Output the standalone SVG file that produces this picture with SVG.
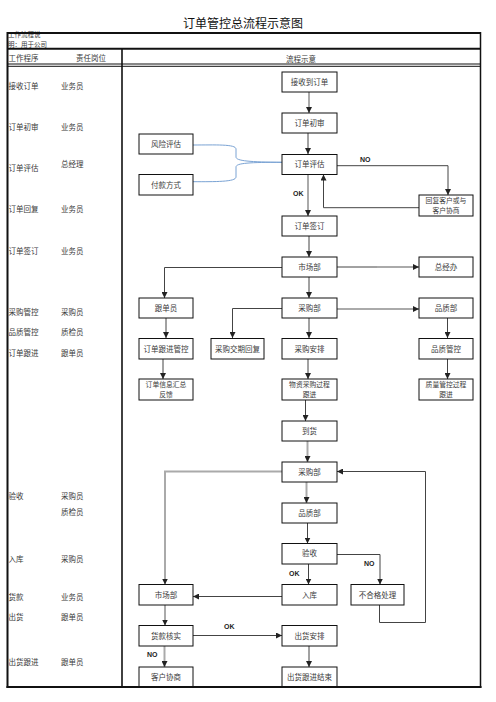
<svg xmlns="http://www.w3.org/2000/svg" width="496" height="702" viewBox="0 0 496 702">
<defs>
<marker id="ah" markerUnits="userSpaceOnUse" markerWidth="6" markerHeight="6" refX="6" refY="3" orient="auto"><path d="M0,0 L6,3 L0,6 z" fill="#222"/></marker>
<style>
text{font-family:"Noto Sans CJK SC","Noto Sans CJK JP",sans-serif;font-size:7.5px;fill:#3a3a3a}
.t{font-size:12px;fill:#111}
.c{text-anchor:middle}
.s{font-size:6.8px}
.h{font-size:6.5px}
.lb{font-family:"Liberation Sans",Arial,sans-serif;font-weight:bold;font-size:7px;fill:#222}
.box rect{fill:#fff;stroke:#111;stroke-width:1}
.ln{fill:none;stroke:#111}
.k{fill:none;stroke:#444;stroke-width:1;marker-end:url(#ah)}
.g{fill:none;stroke:#aaa;stroke-width:2;marker-end:url(#ah)}
.n{fill:none;stroke:#444;stroke-width:1}
.bl{fill:none;stroke:#7aa3d4;stroke-width:1}
</style>
</defs>
<rect width="496" height="702" fill="#fff"/>
<text class="t c" x="243" y="28">订单管控总流程示意图</text>
<g id="table">
<text class="h" x="8" y="37">工作流程说</text>
<text class="h" x="8" y="46.6">明：用于公司</text>
<line class="ln" x1="7" y1="33" x2="481" y2="33" stroke-width="2"/>
<line class="ln" x1="7" y1="48.7" x2="481" y2="48.7" stroke-width="2"/>
<line class="ln" x1="7" y1="64" x2="481" y2="64" stroke-width="1"/>
<line class="ln" x1="7" y1="66.3" x2="481" y2="66.3" stroke-width="1"/>
<line class="ln" x1="7.5" y1="32" x2="7.5" y2="688" stroke-width="2"/>
<line class="ln" x1="480.5" y1="32" x2="480.5" y2="688" stroke-width="1.5"/>
<line class="ln" x1="122" y1="49" x2="122" y2="687" stroke-width="1.6"/>
<text x="8.5" y="60.5">工作程序</text>
<text x="76" y="60.5">责任岗位</text>
<text class="c" x="301" y="62">流程示意</text>
</g>
<g id="left-col">
<text x="8.5" y="89">接收订单</text><text x="61" y="89">业务员</text>
<text x="8.5" y="130">订单初审</text><text x="61" y="130">业务员</text>
<text x="8.5" y="171">订单评估</text><text x="61" y="167">总经理</text>
<text x="8.5" y="212">订单回复</text><text x="61" y="212">业务员</text>
<text x="8.5" y="254">订单签订</text><text x="61" y="254">业务员</text>
<text x="8.5" y="315">采购管控</text><text x="61" y="315">采购员</text>
<text x="8.5" y="335">品质管控</text><text x="61" y="335">质检员</text>
<text x="8.5" y="356">订单跟进</text><text x="61" y="356">跟单员</text>
<text x="8.5" y="499">验收</text><text x="61" y="499">采购员</text>
<text x="61" y="515">质检员</text>
<text x="8.5" y="562">入库</text><text x="61" y="562">采购员</text>
<text x="8.5" y="600">货款</text><text x="61" y="600">业务员</text>
<text x="8.5" y="620">出货</text><text x="61" y="620">跟单员</text>
<text x="8.5" y="665">出货跟进</text><text x="61" y="665">跟单员</text>
</g>
<g id="connectors">
<path class="g" d="M309,92 V113"/>
<path class="k" d="M308,133 V154"/>
<path class="g" d="M308,174.5 V216"/>
<path class="k" d="M337,165.7 H448 V195"/>
<path class="k" d="M419,207.7 H323.5 V174.5"/>
<path class="bl" d="M193,145 C215,145 236,144 236,149 V157 C236,161 250,162 282,162.3"/>
<path class="bl" d="M193,181.7 C215,181.7 236,182 236,177 V167 C236,163 250,162.3 282,162.3"/>
<path class="k" d="M309,236 V257"/>
<path class="n" d="M337,267 H378"/>
<path class="g" d="M377,267 H419"/>
<path class="k" d="M282,267.5 H164.5 V298"/>
<path class="k" d="M309,277 V298"/>
<path class="g" d="M337,309 H419"/>
<path class="k" d="M282,308.5 H232.5 V338"/>
<path class="k" d="M309,318 V338"/>
<path class="k" d="M447.5,318 V338"/>
<path class="k" d="M166,318 V338"/>
<path class="k" d="M163,359 V379"/>
<path class="k" d="M308,359 V379"/>
<path class="k" d="M447.5,359 V379"/>
<path class="k" d="M305.5,400 V421"/>
<path class="g" d="M307.5,441 V462"/>
<path class="g" d="M306.5,482 V503"/>
<path class="k" d="M307.5,523 V543.5"/>
<path class="g" d="M282,471.5 H165 V584.5"/>
<path class="k" d="M337,554.5 H380 V584.5"/>
<path class="k" d="M308.5,564 V584.5"/>
<path class="k" d="M379.5,605 V622.5 H425.5 V471.5 H337"/>
<path class="k" d="M282,596.5 H193"/>
<path class="g" d="M165,605 V625.5"/>
<path class="k" d="M193,635.5 H282"/>
<path class="g" d="M164.5,646 V667"/>
<path class="k" d="M309,646 V667"/>
<text class="lb" x="293" y="196">OK</text>
<text class="lb" x="360" y="162">NO</text>
<text class="lb" x="364" y="566">NO</text>
<text class="lb" x="289" y="576">OK</text>
<text class="lb" x="224" y="629">OK</text>
<text class="lb" x="147" y="657">NO</text>
</g>
<g id="n-jieshou" class="box"><rect x="282" y="72" width="55" height="20"/><text class="c" x="309.5" y="84.5">接收到订单</text></g>
<g id="n-chushen" class="box"><rect x="282" y="113" width="55" height="20"/><text class="c" x="309.5" y="125.5">订单初审</text></g>
<g id="n-fengxian" class="box"><rect x="139" y="134" width="54" height="20"/><text class="c" x="166" y="146.5">风险评估</text></g>
<g id="n-pinggu" class="box"><rect x="282" y="154.5" width="55" height="20"/><text class="c" x="309.5" y="167">订单评估</text></g>
<g id="n-fukuan" class="box"><rect x="139" y="174.5" width="54" height="20.5"/><text class="c" x="166" y="187.5">付款方式</text></g>
<g id="n-huifu" class="box"><rect x="419" y="195" width="54" height="21"/><text class="c s" x="446" y="203.2">回复客户或与</text><text class="c s" x="446" y="212.8">客户协商</text></g>
<g id="n-qianding" class="box"><rect x="282" y="216" width="55" height="20"/><text class="c" x="309.5" y="228.5">订单签订</text></g>
<g id="n-shichang" class="box"><rect x="282" y="257" width="55" height="20"/><text class="c" x="309.5" y="269.5">市场部</text></g>
<g id="n-zongjingban" class="box"><rect x="419" y="257" width="54" height="20"/><text class="c" x="446" y="269.5">总经办</text></g>
<g id="n-gendanyuan" class="box"><rect x="139" y="298" width="54" height="20"/><text class="c" x="166" y="310.5">跟单员</text></g>
<g id="n-caigoubu" class="box"><rect x="282" y="298" width="55" height="20"/><text class="c" x="309.5" y="310.5">采购部</text></g>
<g id="n-pinzhibu" class="box"><rect x="419" y="298" width="54" height="20"/><text class="c" x="446" y="310.5">品质部</text></g>
<g id="n-genjin" class="box"><rect x="139" y="338.5" width="54" height="20.5"/><text class="c" x="166" y="351.5">订单跟进管控</text></g>
<g id="n-jiaoqi" class="box"><rect x="211" y="338.5" width="53" height="20.5"/><text class="c" x="237.5" y="351.5">采购交期回复</text></g>
<g id="n-anpai" class="box"><rect x="282" y="338.5" width="55" height="20.5"/><text class="c" x="309.5" y="351.5">采购安排</text></g>
<g id="n-pinzhiguankong" class="box"><rect x="419" y="338.5" width="54" height="20.5"/><text class="c" x="446" y="351.5">品质管控</text></g>
<g id="n-huizong" class="box"><rect x="139" y="379" width="54" height="21"/><text class="c s" x="166" y="387.2">订单信息汇总</text><text class="c s" x="166" y="396.8">反馈</text></g>
<g id="n-wuzi" class="box"><rect x="282" y="379" width="55" height="21"/><text class="c s" x="309.5" y="387.2">物资采购过程</text><text class="c s" x="309.5" y="396.8">跟进</text></g>
<g id="n-zhiliang" class="box"><rect x="419" y="379" width="54" height="21"/><text class="c s" x="446" y="387.2">质量管控过程</text><text class="c s" x="446" y="396.8">跟进</text></g>
<g id="n-daohuo" class="box"><rect x="282" y="421" width="55" height="20"/><text class="c" x="309.5" y="433.5">到货</text></g>
<g id="n-caigoubu2" class="box"><rect x="282" y="462" width="55" height="20"/><text class="c" x="309.5" y="474.5">采购部</text></g>
<g id="n-pinzhibu2" class="box"><rect x="282" y="503" width="55" height="20"/><text class="c" x="309.5" y="515.5">品质部</text></g>
<g id="n-yanshou" class="box"><rect x="282" y="543.5" width="55" height="20.5"/><text class="c" x="309.5" y="556">验收</text></g>
<g id="n-shichang2" class="box"><rect x="139" y="584.5" width="54" height="20.5"/><text class="c" x="166" y="597.5">市场部</text></g>
<g id="n-ruku" class="box"><rect x="282" y="584.5" width="55" height="20.5"/><text class="c" x="309.5" y="597.5">入库</text></g>
<g id="n-buhege" class="box"><rect x="351" y="584.5" width="53" height="20.5"/><text class="c" x="377.5" y="597.5">不合格处理</text></g>
<g id="n-huokuan" class="box"><rect x="139" y="625.5" width="54" height="20.5"/><text class="c" x="166" y="638.5">货款核实</text></g>
<g id="n-chuhuo" class="box"><rect x="282" y="625.5" width="55" height="20.5"/><text class="c" x="309.5" y="638.5">出货安排</text></g>
<g id="n-kehu" class="box"><rect x="139" y="667" width="54" height="20"/><text class="c" x="166" y="679.5">客户协商</text></g>
<g id="n-jieshu" class="box"><rect x="282" y="667" width="55" height="20"/><text class="c" x="309.5" y="679.5">出货跟进结束</text></g>
<line class="ln" x1="6.5" y1="687" x2="481.5" y2="687" stroke-width="2"/>
</svg>
